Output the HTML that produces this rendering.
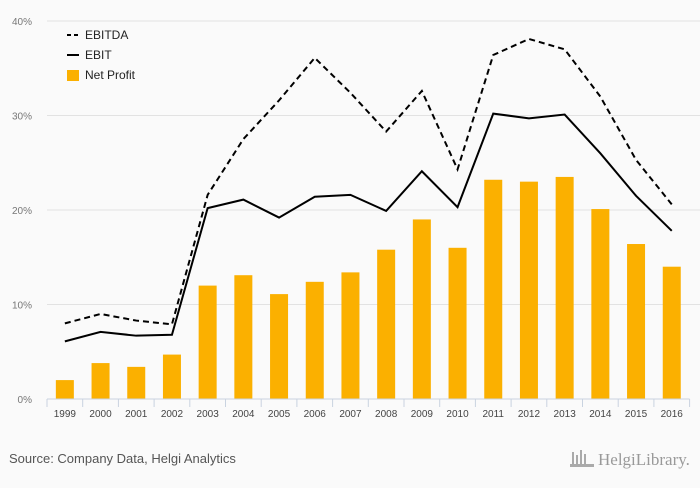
<!DOCTYPE html>
<html><head><meta charset="utf-8"><style>
html,body{margin:0;padding:0;background:#fafafa;}
body{width:700px;height:483px;overflow:hidden;font-family:"Liberation Sans",sans-serif;}
</style></head><body>
<svg id="chart" width="700" height="483" xmlns="http://www.w3.org/2000/svg">
<rect x="0" y="0" width="700" height="483" fill="#fafafa"/>
<g id="grid"></g>
<g id="yticks"></g>
<g id="bars"></g>
<g id="lines"></g>
<g id="xaxis"></g>
<g font-size="12" fill="#222">
<line x1="67" y1="35" x2="79" y2="35" stroke="#000" stroke-width="2" stroke-dasharray="4,3"/>
<text x="85" y="39">EBITDA</text>
<line x1="67" y1="55" x2="79" y2="55" stroke="#000" stroke-width="2"/>
<text x="85" y="59">EBIT</text>
<rect x="67" y="70" width="12" height="11" fill="#fbb000"/>
<text x="85" y="79">Net Profit</text>
</g>
<text x="9" y="463" font-size="13" fill="#555">Source: Company Data, Helgi Analytics</text>
<text x="598" y="465" font-size="17" fill="#999" font-family="Liberation Serif,serif">HelgiLibrary.</text>
<g fill="#aaa"><rect x="572" y="452" width="2" height="14"/><rect x="576" y="455" width="2" height="11"/><rect x="580" y="450" width="2" height="16"/><rect x="584" y="454" width="2" height="12"/><rect x="570" y="464" width="24" height="3"/></g>
</svg>
<script>
const years=["1999","2000","2001","2002","2003","2004","2005","2006","2007","2008","2009","2010","2011","2012","2013","2014","2015","2016"];
const netProfit=[2.0,3.8,3.4,4.7,12.0,13.1,11.1,12.4,13.4,15.8,19.0,16.0,23.2,23.0,23.5,20.1,16.4,14.0];
const ebit=[6.1,7.1,6.7,6.8,20.2,21.1,19.2,21.4,21.6,19.9,24.1,20.3,30.2,29.7,30.1,26.0,21.5,17.8];
const ebitda=[8.0,9.0,8.3,7.9,21.6,27.5,31.6,36.1,32.4,28.3,32.6,24.3,36.4,38.1,37.0,32.0,25.3,20.6];
const yTicks=[0,10,20,30,40];
const NS="http://www.w3.org/2000/svg";
const x0=47,band=35.7,y0=399,pxPer=9.45;
const X=i=>x0+band*(i+0.5);
const Y=v=>y0-v*pxPer;
function mk(tag,attrs,parent){const e=document.createElementNS(NS,tag);for(const k in attrs)e.setAttribute(k,attrs[k]);document.getElementById(parent).appendChild(e);return e;}
yTicks.forEach(t=>{
 if(t>0){const g=mk('line',{x1:x0,x2:700,y1:Y(t),y2:Y(t),stroke:'#e2e2e2','stroke-width':1},'grid');
 
 }
 const l=mk('text',{x:32,y:Y(t)+4,'text-anchor':'end','font-size':10,fill:'#777'},'yticks');
 l.textContent=t+'%';
 
 
});
netProfit.forEach((v,i)=>{
 const r=mk('rect',{x:X(i)-9,y:Y(v),width:18,height:v*pxPer,fill:'#fbb000'},'bars');
 
 
});
const ax=mk('line',{x1:x0,x2:x0+band*18,y1:y0,y2:y0,stroke:'#c9d3e0','stroke-width':1},'xaxis');


for(let i=0;i<=18;i++){const t=mk('line',{x1:x0+band*i,x2:x0+band*i,y1:y0,y2:y0+8,stroke:'#c9d3e0'},'xaxis');
 
 }
years.forEach((y,i)=>{const t=mk('text',{x:X(i),y:417,'text-anchor':'middle','font-size':10,fill:'#444'},'xaxis');
 t.textContent=y;
 
 });
const pts=a=>a.map((v,i)=>X(i)+','+Y(v)).join(' ');
const l1=mk('polyline',{points:pts(ebitda),fill:'none',stroke:'#000','stroke-width':2,'stroke-dasharray':'6,4'},'lines');


const l2=mk('polyline',{points:pts(ebit),fill:'none',stroke:'#000','stroke-width':2},'lines');


</script>
</body></html>
